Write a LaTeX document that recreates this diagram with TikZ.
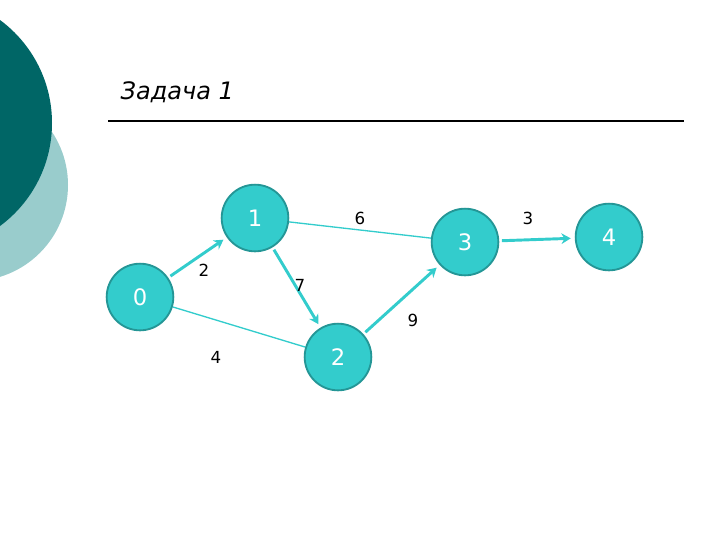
\documentclass[tikz,border=0pt]{standalone}
\usepackage{fontspec}
\setmainfont{DejaVu Sans}
\usetikzlibrary{arrows.meta}

\definecolor{tealdark}{RGB}{0,102,102}
\definecolor{teallight}{RGB}{153,204,204}
\definecolor{nodefill}{RGB}{51,204,204}
\definecolor{nodeline}{RGB}{36,150,150}

\begin{document}
\begin{tikzpicture}[
    x=0.75pt, y=-0.75pt,
    vertex/.style={circle, draw=nodeline, line width=1.4pt, fill=nodefill, minimum size=50pt, inner sep=0pt, text=white, font=\fontsize{17}{17}\selectfont},
    arc/.style={-{Stealth[length=7pt,width=8pt]}, line width=2.2pt, draw=nodefill, shorten >=3pt, shorten <=2pt},
    link/.style={line width=1pt, draw=nodefill},
    wlabel/.style={font=\fontsize{12.5}{12.5}\selectfont, inner sep=1pt},
]

% ---- page and background ----
\useasboundingbox (0,0) rectangle (720,540);
\begin{scope}
  \clip (0,0) rectangle (720,540);
  \fill[teallight] (-28,185) circle (72pt);
  \fill[tealdark] (-76,123) circle (96pt);
\end{scope}

% ---- title ----
\node[anchor=west, font=\itshape\fontsize{18}{18}\selectfont] (title) at (116,92) {Задача 1};
\draw[line width=0.8pt] (108,121) -- (684,121);

% ---- vertices ----
\node[vertex] (v0) at (140,297) {0};
\node[vertex] (v1) at (255,218) {1};
\node[vertex] (v2) at (338,357) {2};
\node[vertex] (v3) at (465,242) {3};
\node[vertex] (v4) at (609,237) {4};

% ---- edges ----
\draw[arc] (v0) -- (v1);
\draw[arc] (v1) -- (v2);
\draw[arc] (v2) -- (v3);
\draw[arc] (v3) -- (v4);
\draw[link] (v0) -- (v2);
\draw[link] (v1) -- (v3);

% ---- weights ----
\node[wlabel] (w01) at (204,270) {2};
\node[wlabel] (w12) at (300,285) {7};
\node[wlabel] (w02) at (216,357) {4};
\node[wlabel] (w13) at (360,218) {6};
\node[wlabel] (w23) at (413,320) {9};
\node[wlabel] (w34) at (528,218) {3};

\end{tikzpicture}
\end{document}
